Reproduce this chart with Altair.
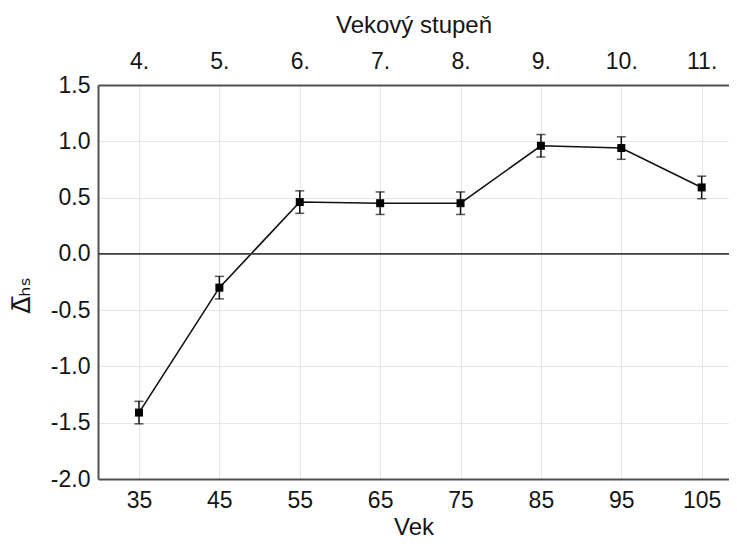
import altair as alt
import pandas as pd

# ---- data ----
ages = [35, 45, 55, 65, 75, 85, 95, 105]
stages = ["4.", "5.", "6.", "7.", "8.", "9.", "10.", "11."]
means = [-1.41, -0.30, 0.46, 0.45, 0.45, 0.96, 0.94, 0.59]
errs = [0.10, 0.10, 0.10, 0.10, 0.10, 0.10, 0.10, 0.10]
y_ticks = [-2.0, -1.5, -1.0, -0.5, 0.0, 0.5, 1.0, 1.5]

df = pd.DataFrame({
    "Vek": ages,
    "stage": stages,
    "mean": means,
    "lo": [m - e for m, e in zip(means, errs)],
    "hi": [m + e for m, e in zip(means, errs)],
})

FONT = "Liberation Sans"
AXC = "#505050"
GRID = "#e6e6e6"
TXT = "#151515"

xscale = alt.Scale(domain=[29.9, 108.4], nice=False, zero=False)
yscale = alt.Scale(domain=[-2.0, 1.5], nice=False, zero=False)

stage_arr = "[" + ",".join("'" + s + "'" for s in stages) + "]"
age_arr = "[" + ",".join(str(a) for a in ages) + "]"

bottom_axis = alt.Axis(
    orient="bottom", values=ages, title="Vek", grid=True, gridColor=GRID,
    ticks=False, domainColor=AXC, domainWidth=2,
    labelFont=FONT, labelFontSize=23, labelColor=TXT, labelPadding=10,
    titleFont=FONT, titleFontSize=24, titleFontWeight="normal", titleColor=TXT,
    titlePadding=3,
)
top_axis = alt.Axis(
    orient="top", values=ages, title="Vekový stupeň", grid=False,
    ticks=False, domainColor=AXC, domainWidth=2,
    labelExpr=stage_arr + "[indexof(" + age_arr + ", datum.value)]",
    labelFont=FONT, labelFontSize=23, labelColor=TXT, labelPadding=12,
    titleFont=FONT, titleFontSize=24, titleFontWeight="normal", titleColor=TXT,
    titlePadding=13,
)
y_axis = alt.Axis(
    values=y_ticks, grid=True, gridColor=GRID, ticks=False,
    labelExpr="replace(format(datum.value, '.1f'), '\u2212', '-')",
    domainColor=AXC, domainWidth=2,
    labelFont=FONT, labelFontSize=23, labelColor=TXT, labelPadding=8,
    title="\u0394\u0305\u2095\u209b", titleFont="DejaVu Sans", titleFontSize=25,
    titleFontWeight="normal", titleColor=TXT,
    titleAngle=270, titleAlign="center", titleBaseline="middle",
    titleX=-77, titleY=210,
)

base = alt.Chart(df)

line = base.mark_line(color="#111111", strokeWidth=1.6).encode(
    x=alt.X("Vek:Q", scale=xscale, axis=bottom_axis),
    y=alt.Y("mean:Q", scale=yscale, axis=y_axis),
)
pts = base.mark_point(shape="square", filled=True, size=64, color="#000000", opacity=1).encode(
    x=alt.X("Vek:Q", scale=xscale, axis=top_axis),
    y=alt.Y("mean:Q", scale=yscale),
)
bars = base.mark_rule(color="#111111", strokeWidth=1.5).encode(
    x=alt.X("Vek:Q", scale=xscale, axis=None),
    y=alt.Y("lo:Q", scale=yscale),
    y2="hi:Q",
)
cap_lo = base.mark_tick(orient="horizontal", color="#111111", thickness=1.5, size=9).encode(
    x=alt.X("Vek:Q", scale=xscale, axis=None),
    y=alt.Y("lo:Q", scale=yscale),
)
cap_hi = base.mark_tick(orient="horizontal", color="#111111", thickness=1.5, size=9).encode(
    x=alt.X("Vek:Q", scale=xscale, axis=None),
    y=alt.Y("hi:Q", scale=yscale),
)
zero = alt.Chart(pd.DataFrame({"z": [0.0]})).mark_rule(color="#404040", strokeWidth=1.6).encode(
    y=alt.Y("z:Q", scale=yscale)
)

chart = alt.layer(line, zero, bars, cap_lo, cap_hi, pts).resolve_axis(
    x="independent"
).properties(
    width=631, height=394,
    autosize=alt.AutoSizeParams(type="none"),
    padding={"left": 90, "top": 77, "right": 0, "bottom": 61},
    background="white",
).configure_view(stroke=None)

chart.save("out.html", embed_options={"renderer": "svg", "actions": False})
